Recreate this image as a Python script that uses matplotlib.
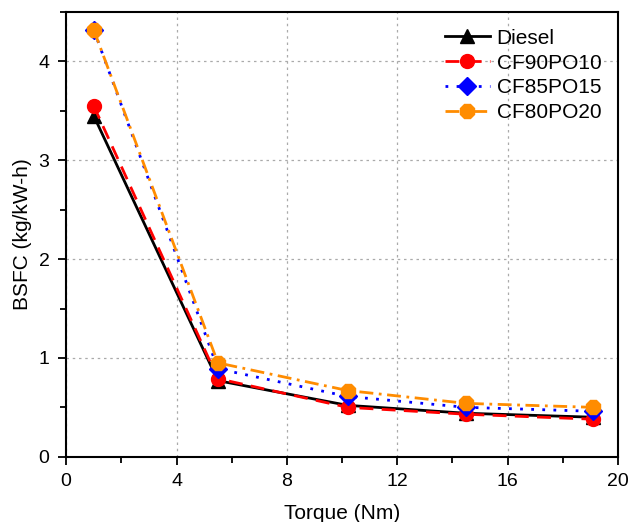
import matplotlib
matplotlib.use("Agg")
import matplotlib.pyplot as plt
from matplotlib.ticker import MultipleLocator

plt.rcParams['font.family'] = ['Liberation Sans', 'DejaVu Sans']

# Data
torque = [1.0, 5.5, 10.2, 14.5, 19.1]
diesel = [3.45, 0.77, 0.52, 0.44, 0.40]
cf90po10 = [3.55, 0.79, 0.50, 0.43, 0.38]
cf85po15 = [4.32, 0.89, 0.61, 0.50, 0.46]
cf80po20 = [4.32, 0.95, 0.67, 0.54, 0.50]

fig = plt.figure(figsize=(6.3, 5.22), dpi=100)
ax = fig.add_axes([0.105, 0.125, 0.876, 0.852])

ax.plot(torque, diesel, color="black", linestyle="-", linewidth=2,
        marker="^", markersize=10, label="Diesel")
ax.plot(torque, cf90po10, color="red", linestyle=(0, (5, 3)), linewidth=2,
        marker="o", markersize=10, label="CF90PO10")
ax.plot(torque, cf85po15, color="blue", linestyle=(0, (1, 3)), linewidth=2,
        marker="D", markersize=9, label="CF85PO15")
ax.plot(torque, cf80po20, color="#FF8C00", linestyle=(0, (5, 2, 1, 2)), linewidth=2,
        marker="8", markersize=11, label="CF80PO20")

ax.set_xlim(0, 20)
ax.set_ylim(0, 4.5)
ax.xaxis.set_major_locator(MultipleLocator(4))
ax.xaxis.set_minor_locator(MultipleLocator(2))
ax.yaxis.set_major_locator(MultipleLocator(1))
ax.yaxis.set_minor_locator(MultipleLocator(0.5))
ax.tick_params(which="major", direction="out", length=6, width=1.3, labelsize=14, pad=6)
ax.tick_params(which="minor", direction="out", length=4, width=1.3)
for s in ax.spines.values():
    s.set_linewidth(1.5)

ax.grid(True, which="major", linestyle=(0, (2, 3)), color="#aaaaaa", linewidth=0.9)
ax.set_axisbelow(True)

ax.set_xlabel("Torque (Nm)", fontsize=15, labelpad=10)
ax.set_ylabel("BSFC (kg/kW-h)", fontsize=15, labelpad=5)

ax.legend(loc="upper right", frameon=False, fontsize=15, handlelength=2.2,
          handletextpad=0.3, labelspacing=0.28, borderaxespad=0.4)

plt.savefig("out.png", dpi=100)
